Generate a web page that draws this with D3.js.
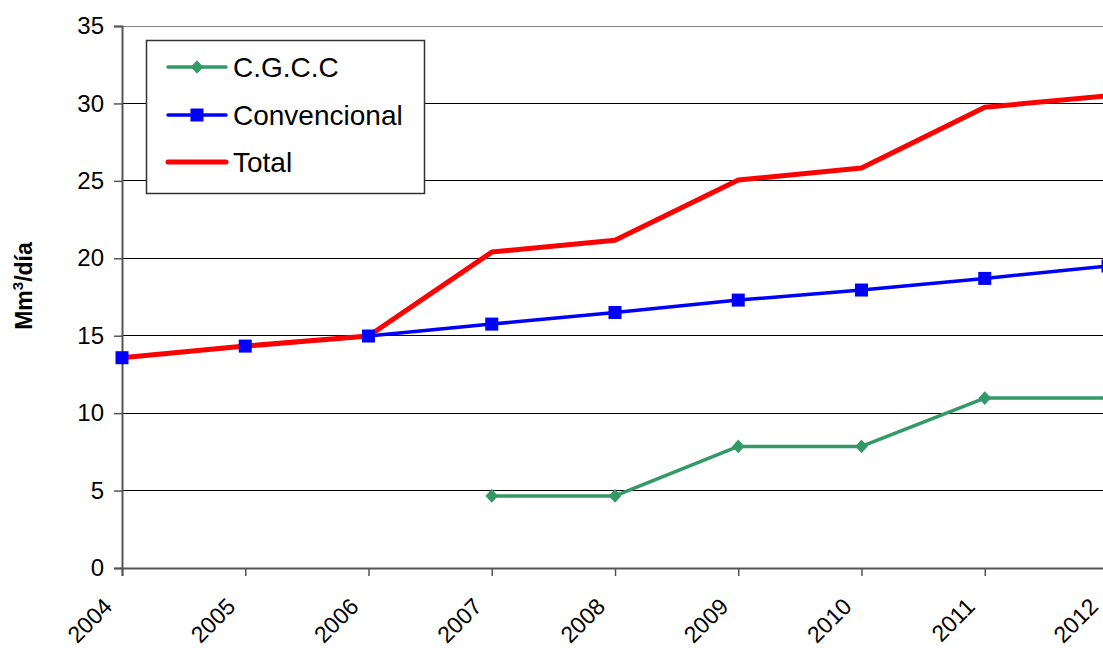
<!DOCTYPE html>
<html>
<head>
<meta charset="utf-8">
<script src="https://cdn.jsdelivr.net/npm/d3@7"></script>
<style>
  html, body { margin: 0; padding: 0; background: #fff; }
  svg { display: block; font-family: "Liberation Sans", Arial, sans-serif; }
</style>
</head>
<body>
<svg id="chart" width="1103" height="648"></svg>
<script>
const years = [2004, 2005, 2006, 2007, 2008, 2009, 2010, 2011, 2012];
const cgccValues = [null, null, null, 4.65, 4.65, 7.85, 7.85, 10.97, 10.97];
const convValues = [13.58, 14.33, 14.98, 15.75, 16.5, 17.3, 17.95, 18.7, 19.5];
const totalValues = [13.58, 14.33, 14.98, 20.4, 21.17, 25.05, 25.83, 29.75, 30.5];
const yTicks = [0, 5, 10, 15, 20, 25, 30, 35];
const seriesNames = ["C.G.C.C", "Convencional", "Total"];
const seriesColors = ["#339966", "#0000FF", "#FF0000"];

const svg = d3.select("#chart");
const x = d3.scaleLinear().domain([2004, 2012]).range([122, 1108]);
const y = d3.scaleLinear().domain([0, 35]).range([568, 26]);

// gridlines
svg.append("g").selectAll("line").data(yTicks.filter(d => d > 0)).join("line")
  .attr("x1", x(2004)).attr("x2", 1103)
  .attr("y1", d => y(d)).attr("y2", d => y(d))
  .attr("stroke", d => d === 35 ? "#808080" : "#000").attr("stroke-width", 1)
  .attr("shape-rendering", "crispEdges");

// y axis
const yAxis = svg.append("g").attr("transform", `translate(${x(2004)},0)`)
  .call(d3.axisLeft(y).tickValues(yTicks).tickSize(8).tickPadding(10).tickFormat(d3.format("d")));
yAxis.select(".domain").attr("stroke", "#555").attr("stroke-width", 2);
yAxis.selectAll(".tick line").attr("stroke", "#555").attr("stroke-width", 1.5);
yAxis.selectAll("text").attr("font-size", 24).attr("fill", "#000")
  .attr("font-family", "Liberation Sans, Arial, sans-serif");

// x axis
const xAxis = svg.append("g").attr("transform", `translate(0,${y(0)})`)
  .call(d3.axisBottom(x).tickValues(years).tickSize(8).tickFormat(d3.format("d")));
xAxis.select(".domain").attr("stroke", "#555").attr("stroke-width", 2);
xAxis.selectAll(".tick line").attr("stroke", "#555").attr("stroke-width", 1.5);
xAxis.selectAll("text")
  .attr("font-size", 23).attr("fill", "#000")
  .attr("font-family", "Liberation Sans, Arial, sans-serif")
  .attr("text-anchor", "end")
  .attr("y", 0).attr("dy", 0)
  .attr("transform", "translate(-9,40) rotate(-45)");

// y title
svg.append("text")
  .attr("transform", "translate(32,286) rotate(-90)")
  .attr("text-anchor", "middle")
  .attr("font-size", 23).attr("font-weight", "bold")
  .html('Mm<tspan dy="-9" font-size="15">3</tspan><tspan dy="9">/día</tspan>');

const line = d3.line().defined(d => d.v !== null).x(d => x(d.year)).y(d => y(d.v));
const mk = vals => years.map((yr, i) => ({ year: yr, v: vals[i] }));
const cgcc = mk(cgccValues), conv = mk(convValues), total = mk(totalValues);

svg.append("path").datum(cgcc).attr("d", line).attr("fill", "none")
  .attr("stroke", seriesColors[0]).attr("stroke-width", 3.5).attr("stroke-linejoin", "round");
svg.append("path").datum(conv).attr("d", line).attr("fill", "none")
  .attr("stroke", seriesColors[1]).attr("stroke-width", 3.5).attr("stroke-linejoin", "round");
svg.append("path").datum(total).attr("d", line).attr("fill", "none")
  .attr("stroke", seriesColors[2]).attr("stroke-width", 5).attr("stroke-linejoin", "round");

// markers
const diamond = d3.symbol().type(d3.symbolSquare).size(78);
svg.append("g").selectAll("path").data(cgcc.filter(d => d.v !== null)).join("path")
  .attr("d", diamond).attr("transform", d => `translate(${x(d.year)},${y(d.v)}) scale(1,1.1) rotate(45)`)
  .attr("fill", seriesColors[0]);
svg.append("g").selectAll("rect").data(conv).join("rect")
  .attr("x", d => x(d.year) - 6.5).attr("y", d => y(d.v) - 6.5)
  .attr("width", 13).attr("height", 13).attr("fill", seriesColors[1]);

// legend
const lg = svg.append("g");
lg.append("rect").attr("x", 146.5).attr("y", 40.5).attr("width", 278).attr("height", 153)
  .attr("fill", "#fff").attr("stroke", "#333").attr("stroke-width", 1.5);
const ly = [67, 115, 162];
const lw = [3.5, 3.5, 5];
seriesNames.forEach((name, i) => {
  lg.append("line").attr("x1", 168).attr("x2", 226).attr("y1", ly[i]).attr("y2", ly[i])
    .attr("stroke", seriesColors[i]).attr("stroke-width", lw[i]).attr("stroke-linecap", "round");
  if (i === 0) {
    lg.append("path").attr("d", diamond).attr("transform", `translate(197,${ly[i]}) scale(1,1.1) rotate(45)`)
      .attr("fill", seriesColors[i]);
  } else if (i === 1) {
    lg.append("rect").attr("x", 197 - 6.5).attr("y", ly[i] - 6.5).attr("width", 13).attr("height", 13)
      .attr("fill", seriesColors[i]);
  }
  lg.append("text").attr("x", 233).attr("y", ly[i] + 10).attr("font-size", 28).attr("fill", "#000")
    .text(name);
});
</script>
</body>
</html>
